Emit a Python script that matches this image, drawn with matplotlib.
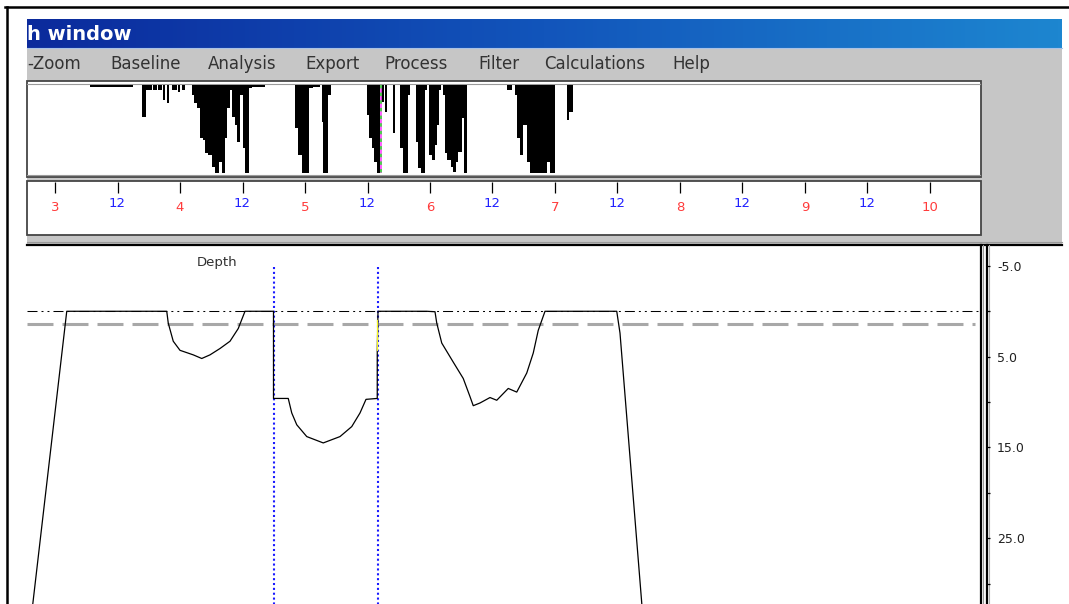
import numpy as np
import matplotlib
matplotlib.use('Agg')
import matplotlib.pyplot as plt
from matplotlib.colors import LinearSegmentedColormap
from matplotlib.patches import Rectangle

plt.rcParams['lines.scale_dashes'] = False
plt.rcParams['font.family'] = ['DejaVu Sans']

W, H = 1069, 604

# ---- data ----
# overview strip: dive bars (start day, end day, depth in strip units 0..88)
ov_start = [3.280, 3.694, 3.728, 3.786, 3.826, 3.866, 3.894, 3.934, 3.986, 4.014,
            4.094, 4.112, 4.134, 4.160, 4.182, 4.202, 4.226, 4.254, 4.280, 4.314,
            4.334, 4.360, 4.378, 4.400, 4.416, 4.440, 4.458, 4.480, 4.502, 4.522,
            4.550, 4.574, 4.920, 4.946, 4.974, 5.034, 5.066, 5.134, 5.146, 5.186,
            5.494, 5.514, 5.534, 5.552, 5.574, 5.606, 5.640, 5.702, 5.760, 5.782,
            5.826, 5.888, 5.906, 5.926, 5.960, 5.994, 6.014, 6.040, 6.058, 6.074,
            6.102, 6.120, 6.138, 6.166, 6.186, 6.208, 6.226, 6.254, 6.272, 6.614,
            6.680, 6.698, 6.720, 6.742, 6.774, 6.800, 6.934, 6.960, 7.094, 7.114]
ov_end = [3.624, 3.728, 3.774, 3.814, 3.854, 3.882, 3.914, 3.974, 4.000, 4.040,
          4.112, 4.134, 4.160, 4.182, 4.202, 4.226, 4.254, 4.280, 4.314, 4.334,
          4.360, 4.378, 4.400, 4.416, 4.440, 4.458, 4.480, 4.502, 4.522, 4.550,
          4.574, 4.680, 4.946, 4.974, 5.034, 5.066, 5.120, 5.146, 5.186, 5.208,
          5.514, 5.534, 5.552, 5.574, 5.600, 5.632, 5.658, 5.722, 5.782, 5.826,
          5.840, 5.906, 5.926, 5.960, 5.974, 6.014, 6.040, 6.058, 6.074, 6.088,
          6.120, 6.138, 6.166, 6.186, 6.208, 6.226, 6.254, 6.272, 6.298, 6.654,
          6.698, 6.720, 6.742, 6.774, 6.800, 6.934, 6.960, 7.000, 7.114, 7.146]
ov_depth = [2, 32, 5, 5, 5, 15, 18, 5, 7, 5,
            10, 18, 23, 53, 55, 68, 70, 82, 88, 77,
            88, 53, 23, 5, 32, 40, 57, 10, 63, 88,
            3, 2, 43, 70, 88, 3, 2, 37, 88, 10,
            30, 53, 63, 77, 88, 17, 27, 48, 63, 88,
            10, 57, 83, 88, 5, 70, 75, 60, 40, 5,
            10, 68, 75, 82, 87, 77, 67, 33, 88, 5,
            10, 53, 70, 40, 77, 88, 77, 88, 35, 27]
marker_day = 5.604

# ruler
ruler_days = [3, 4, 5, 6, 7, 8, 9, 10]
noon_days = [3.5, 4.5, 5.5, 6.5, 7.5, 8.5, 9.5]
noon_label = '12'

# main depth trace (day, depth m)
trace_day = [2.799, 3.094, 3.894, 3.906, 3.946, 4.000, 4.106, 4.174, 4.240, 4.320,
             4.400, 4.466, 4.520, 4.748, 4.748, 4.866, 4.894, 4.934, 5.014, 5.146,
             5.280, 5.374, 5.440, 5.488, 5.578, 5.578, 5.584, 5.974, 6.040, 6.054,
             6.094, 6.186, 6.266, 6.320, 6.346, 6.400, 6.480, 6.534, 6.626, 6.694,
             6.774, 6.826, 6.866, 6.920, 7.494, 7.520, 7.692, 7.710]
trace_depth = [35.0, 0.0, 0.0, 1.3, 3.3, 4.3, 4.8, 5.2, 4.8, 4.1,
               3.3, 1.9, 0.0, 0.0, 9.6, 9.6, 11.2, 12.5, 13.8, 14.5,
               13.8, 12.7, 11.2, 9.7, 9.6, 4.6, 0.0, 0.0, 0.05, 1.3,
               3.5, 5.6, 7.4, 9.4, 10.4, 10.1, 9.5, 9.8, 8.5, 8.9,
               6.8, 4.6, 2.1, 0.0, 0.0, 2.4, 31.8, 35.0]
highlight_day = [5.578, 5.578]
highlight_depth = [1.0, 4.3]
cursor_days = [4.752, 5.586]
surface_depth = 0.0
baseline_depth = 1.35
depth_ticks = [-5, 5, 15, 25]
depth_minor = [0, 10, 20, 30]

menu_items = ['-Zoom', 'Baseline', 'Analysis', 'Export', 'Process',
              'Filter', 'Calculations', 'Help']
title_text = 'h window'

# ---- layout helpers (pixel boxes) ----
def box(x0, y0, x1, y1):
    return [x0 / W, 1 - y1 / H, (x1 - x0) / W, (y1 - y0) / H]

XLIM = (2.776, 10.40)

fig = plt.figure(figsize=(W / 100, H / 100), dpi=100)
fig.patch.set_facecolor('white')

# window chrome in pixel coordinates
bg = fig.add_axes([0, 0, 1, 1])
bg.set_xlim(0, W)
bg.set_ylim(H, 0)
bg.set_axis_off()

bg.add_patch(Rectangle((27, 48), 1035, 197, facecolor='#c6c6c6', edgecolor='none'))
cmap = LinearSegmentedColormap.from_list('title', ['#0b2a9c', '#1255bb', '#1d86d0'])
bg.imshow(np.linspace(0, 1, 256)[None, :], cmap=cmap, aspect='auto',
          extent=(27, 1062, 48, 19), zorder=1)
bg.plot([27, 1062], [48, 48], color='#a9c2e6', lw=0.8, zorder=2)
bg.text(27, 34, title_text, color='white', fontsize=14, fontweight='bold',
        va='center', ha='left', zorder=3)

menu_x = [27, 110, 208, 305, 384, 478, 544, 672]
for mx, item in zip(menu_x, menu_items):
    bg.text(mx, 64, item, fontsize=12, color='#333333', va='center', ha='left')

# panels
bg.add_patch(Rectangle((27, 81), 954, 96, facecolor='white', edgecolor='#454545', lw=1.3))
bg.plot([27, 980], [84, 84], color='#9a9a9a', lw=0.8)
bg.plot([27, 980], [174.5, 174.5], color='#9a9a9a', lw=0.8)
bg.add_patch(Rectangle((27, 181), 954, 54, facecolor='white', edgecolor='#454545', lw=1.3))
bg.add_patch(Rectangle((27, 245), 1035, 359, facecolor='white', edgecolor='none'))
bg.plot([27, 1062], [245, 245], color='black', lw=1.6)
bg.plot([27, 1062], [242, 242], color='#9a9a9a', lw=0.8)
bg.plot([980.5, 980.5], [245, 604], color='black', lw=1.6)
bg.plot([983, 983], [245, 604], color='#9a9a9a', lw=0.8)
bg.plot([988.5, 988.5], [245, 604], color='#b0b0b0', lw=0.8)

# outer frame of the screenshot
bg.plot([5, 1069], [7, 7], color='black', lw=1.8)
bg.plot([6.5, 6.5], [7, 604], color='black', lw=1.8)

# ---- overview strip ----
ax_ov = fig.add_axes(box(27, 85, 980, 173))
ax_ov.set_xlim(*XLIM)
ax_ov.set_ylim(88, 0)
ax_ov.set_axis_off()
widths = np.array(ov_end) - np.array(ov_start)
ax_ov.bar(ov_start, ov_depth, width=widths, align='edge', color='black',
          linewidth=0, antialiased=False)
ax_ov.vlines(marker_day, 0, 88, color='#ff40ff', lw=1.2)
ax_ov.vlines(marker_day, 0, 88, color='#30e030', lw=1.2, linestyles=(0, (2.5, 3)))

# ---- ruler ----
ax_ru = fig.add_axes(box(27, 181, 980, 235))
ax_ru.set_xlim(*XLIM)
ax_ru.set_ylim(1, 0)
ax_ru.set_axis_off()
ax_ru.vlines(ruler_days + noon_days, 0.02, 0.22, color='black', lw=0.9)
for d in ruler_days:
    ax_ru.text(d, 0.49, str(d), color='#ff3b3b', fontsize=9.5, ha='center', va='center')
for d in noon_days:
    ax_ru.text(d, 0.41, noon_label, color='#2020ff', fontsize=9.5, ha='center', va='center')

# ---- main depth plot ----
ax = fig.add_axes(box(27, 245, 980, 604))
ax.set_xlim(*XLIM)
ax.set_ylim(32.24, -7.30)
ax.set_axis_off()
ax.axhline(surface_depth, color='black', lw=0.75,
           linestyle=(0, (7.2, 2.9, 1.4, 2.9, 1.4, 2.9)))
ax.axhline(baseline_depth, xmax=0.995, color='#a8a8a8', lw=2.2,
           linestyle=(0, (18.7, 6.5)))
ax.vlines(cursor_days, -4.9, 33, color='#1a1aff', lw=1.5,
          linestyles=[(0, (1.5, 2.0))])
ax.plot(trace_day, trace_depth, color='black', lw=0.9)
ax.plot(highlight_day, highlight_depth, color='#f0f020', lw=0.9)
ax.text(4.296, -5.4, 'Depth', fontsize=9.5, color='#303030', ha='center', va='center')

# right depth axis
ax_r = fig.add_axes(box(986, 245, 986.6, 604))
ax_r.set_ylim(32.24, -7.30)
ax_r.set_xticks([])
for s in ['left', 'top', 'bottom']:
    ax_r.spines[s].set_visible(False)
ax_r.spines['right'].set_linewidth(1.6)
ax_r.patch.set_alpha(0)
ax_r.yaxis.tick_right()
ax_r.set_yticks(depth_ticks)
ax_r.set_yticklabels([f'{v:.1f}' for v in depth_ticks])
ax_r.set_yticks(depth_minor, minor=True)
ax_r.tick_params(axis='y', which='both', direction='out', length=2.4, width=0.9,
                 pad=5.2, labelsize=9, labelcolor='#202020')

fig.savefig('out.png', dpi=100)
